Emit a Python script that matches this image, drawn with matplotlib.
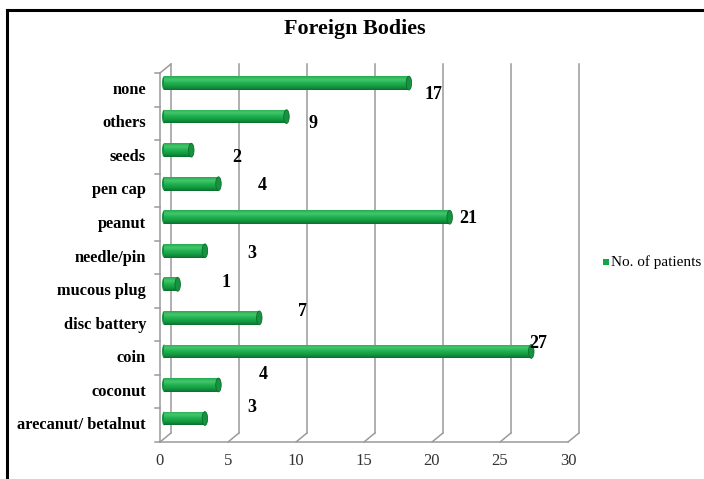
import numpy as np
import matplotlib
matplotlib.use('Agg')
import matplotlib.pyplot as plt
import matplotlib.transforms as mtransforms
from matplotlib.patches import Ellipse, Rectangle
from matplotlib.colors import LinearSegmentedColormap

plt.rcParams['font.family'] = ['Liberation Serif', 'DejaVu Serif']

# data (bottom to top, as drawn)
categories = ['arecanut/ betalnut', 'coconut', 'coin', 'disc battery', 'mucous plug',
              'needle/pin', 'peanut', 'pen cap', 'seeds', 'others', 'none']
bar_values = [3, 4, 27, 7, 1, 3, 21, 4, 2, 9, 18]
label_texts = ['3', '4', '27', '7', '1', '3', '21', '4', '2', '9', '17']
xticks = [0, 5, 10, 15, 20, 25, 30]
series_name = 'No. of patients'
title = 'Foreign Bodies'

# data label offsets (pixels from front end of bar), layout only
label_dx = [51, 49, 11, 47, 52, 51, 23, 48, 50, 31, 29]
label_dy = [18, 17, 15, 13, 9, 4, 5, 5, -1, 0, -5]

W, H = 704, 479
fig = plt.figure(figsize=(W / 100, H / 100), dpi=100)

# front plane of the pseudo-3d plot
ax = fig.add_axes([160 / W, (H - 442) / H, 408 / W, 369 / H])
ax.set_xlim(0, 30)
ax.set_ylim(-0.5, len(categories) - 0.5)
for s in ax.spines.values():
    s.set_visible(False)
ax.set_xticks([])
ax.set_yticks([])
ax.patch.set_alpha(0)

depth = mtransforms.ScaledTranslation(11 / 100, 9 / 100, fig.dpi_scale_trans)
back = ax.transData + depth
grid_c = '#9a9a9a'
ytop = len(categories) - 0.5

# back wall gridlines and floor diagonals
for t in xticks:
    ax.plot([t, t], [-0.5, ytop], color=grid_c, lw=1.1, transform=back, clip_on=False)
    ax.annotate('', xy=(t, -0.5), xycoords=back, xytext=(t, -0.5), textcoords='data',
                arrowprops=dict(arrowstyle='-', color=grid_c, lw=1.1, shrinkA=0, shrinkB=0))
ax.plot([0, 30], [-0.5, -0.5], color=grid_c, lw=1.1, clip_on=False)
# left wall
ax.plot([0, 0], [-0.5, ytop], color=grid_c, lw=1.1, clip_on=False)
ax.annotate('', xy=(0, ytop), xycoords=back, xytext=(0, ytop), textcoords='data',
            arrowprops=dict(arrowstyle='-', color=grid_c, lw=1.1, shrinkA=0, shrinkB=0))
for b in np.arange(-0.5, ytop + 0.01, 1):
    ax.plot([-0.35, 0], [b, b], color=grid_c, lw=1.1, clip_on=False)

# bars
y = np.arange(len(categories))
bar_left = 0.3
bar_up = 0.2
bar_h = 0.41
bars = ax.barh(y + bar_up, bar_values, left=bar_left, height=bar_h,
               color='#17a347', edgecolor='none', zorder=3)
cmap = LinearSegmentedColormap.from_list('cyl', ['#0b712e', '#139a42', '#20b150', '#45c66c', '#25ad52'])
grad = np.linspace(0, 1, 64).reshape(-1, 1)
for rect, v, yy in zip(bars, bar_values, y):
    im = ax.imshow(grad, cmap=cmap, aspect='auto', origin='lower', zorder=3,
                   extent=(bar_left, bar_left + v, yy + bar_up - bar_h / 2, yy + bar_up + bar_h / 2))
    im.set_clip_path(rect)
    cap = Ellipse((bar_left + v, yy + bar_up), 0.4, bar_h, facecolor='#17923f',
                  edgecolor='#0c6e2e', lw=0.6, zorder=4)
    ax.add_patch(cap)
    left_cap = Ellipse((bar_left, yy + bar_up), 0.3, bar_h, facecolor='#11903c',
                       edgecolor='none', zorder=2)
    ax.add_patch(left_cap)

ax.set_xlim(0, 30)
ax.set_ylim(-0.5, ytop)

# data labels
for v, yy, txt, dx, dy in zip(bar_values, y, label_texts, label_dx, label_dy):
    ax.annotate(txt, xy=(v, yy), xytext=(dx, dy), textcoords='offset pixels',
                ha='center', va='center', fontsize=13, fontweight='bold', zorder=5)

# category labels
for yy, c in zip(y, categories):
    ax.annotate(c, xy=(0, yy), xytext=(-14, 0), textcoords='offset pixels',
                ha='right', va='center', fontsize=11.8, fontweight='bold')

# x tick labels
for t in xticks:
    ax.annotate(str(t), xy=(t, -0.5), xytext=(0, -19), textcoords='offset pixels',
                ha='center', va='center', fontsize=12, color='#333333')

fig.text(355 / W, 1 - 29 / H, title, ha='center', va='center',
         fontsize=15.8, fontweight='bold')

# legend
fig.patches.append(Rectangle((603 / W, 1 - 265 / H), 6 / W, 6 / H,
                             transform=fig.transFigure, facecolor='#17a347', edgecolor='none'))
fig.text(611 / W, 1 - 262 / H, series_name, ha='left', va='center', fontsize=11)

# chart frame
fig.add_artist(plt.Line2D([7.5 / W, 7.5 / W], [0, 1 - 10 / H], color='black', lw=2.2,
                          transform=fig.transFigure))
fig.add_artist(plt.Line2D([7.5 / W, 1], [1 - 10 / H, 1 - 10 / H], color='black', lw=2.2,
                          transform=fig.transFigure))

fig.savefig('out.png', dpi=100)
